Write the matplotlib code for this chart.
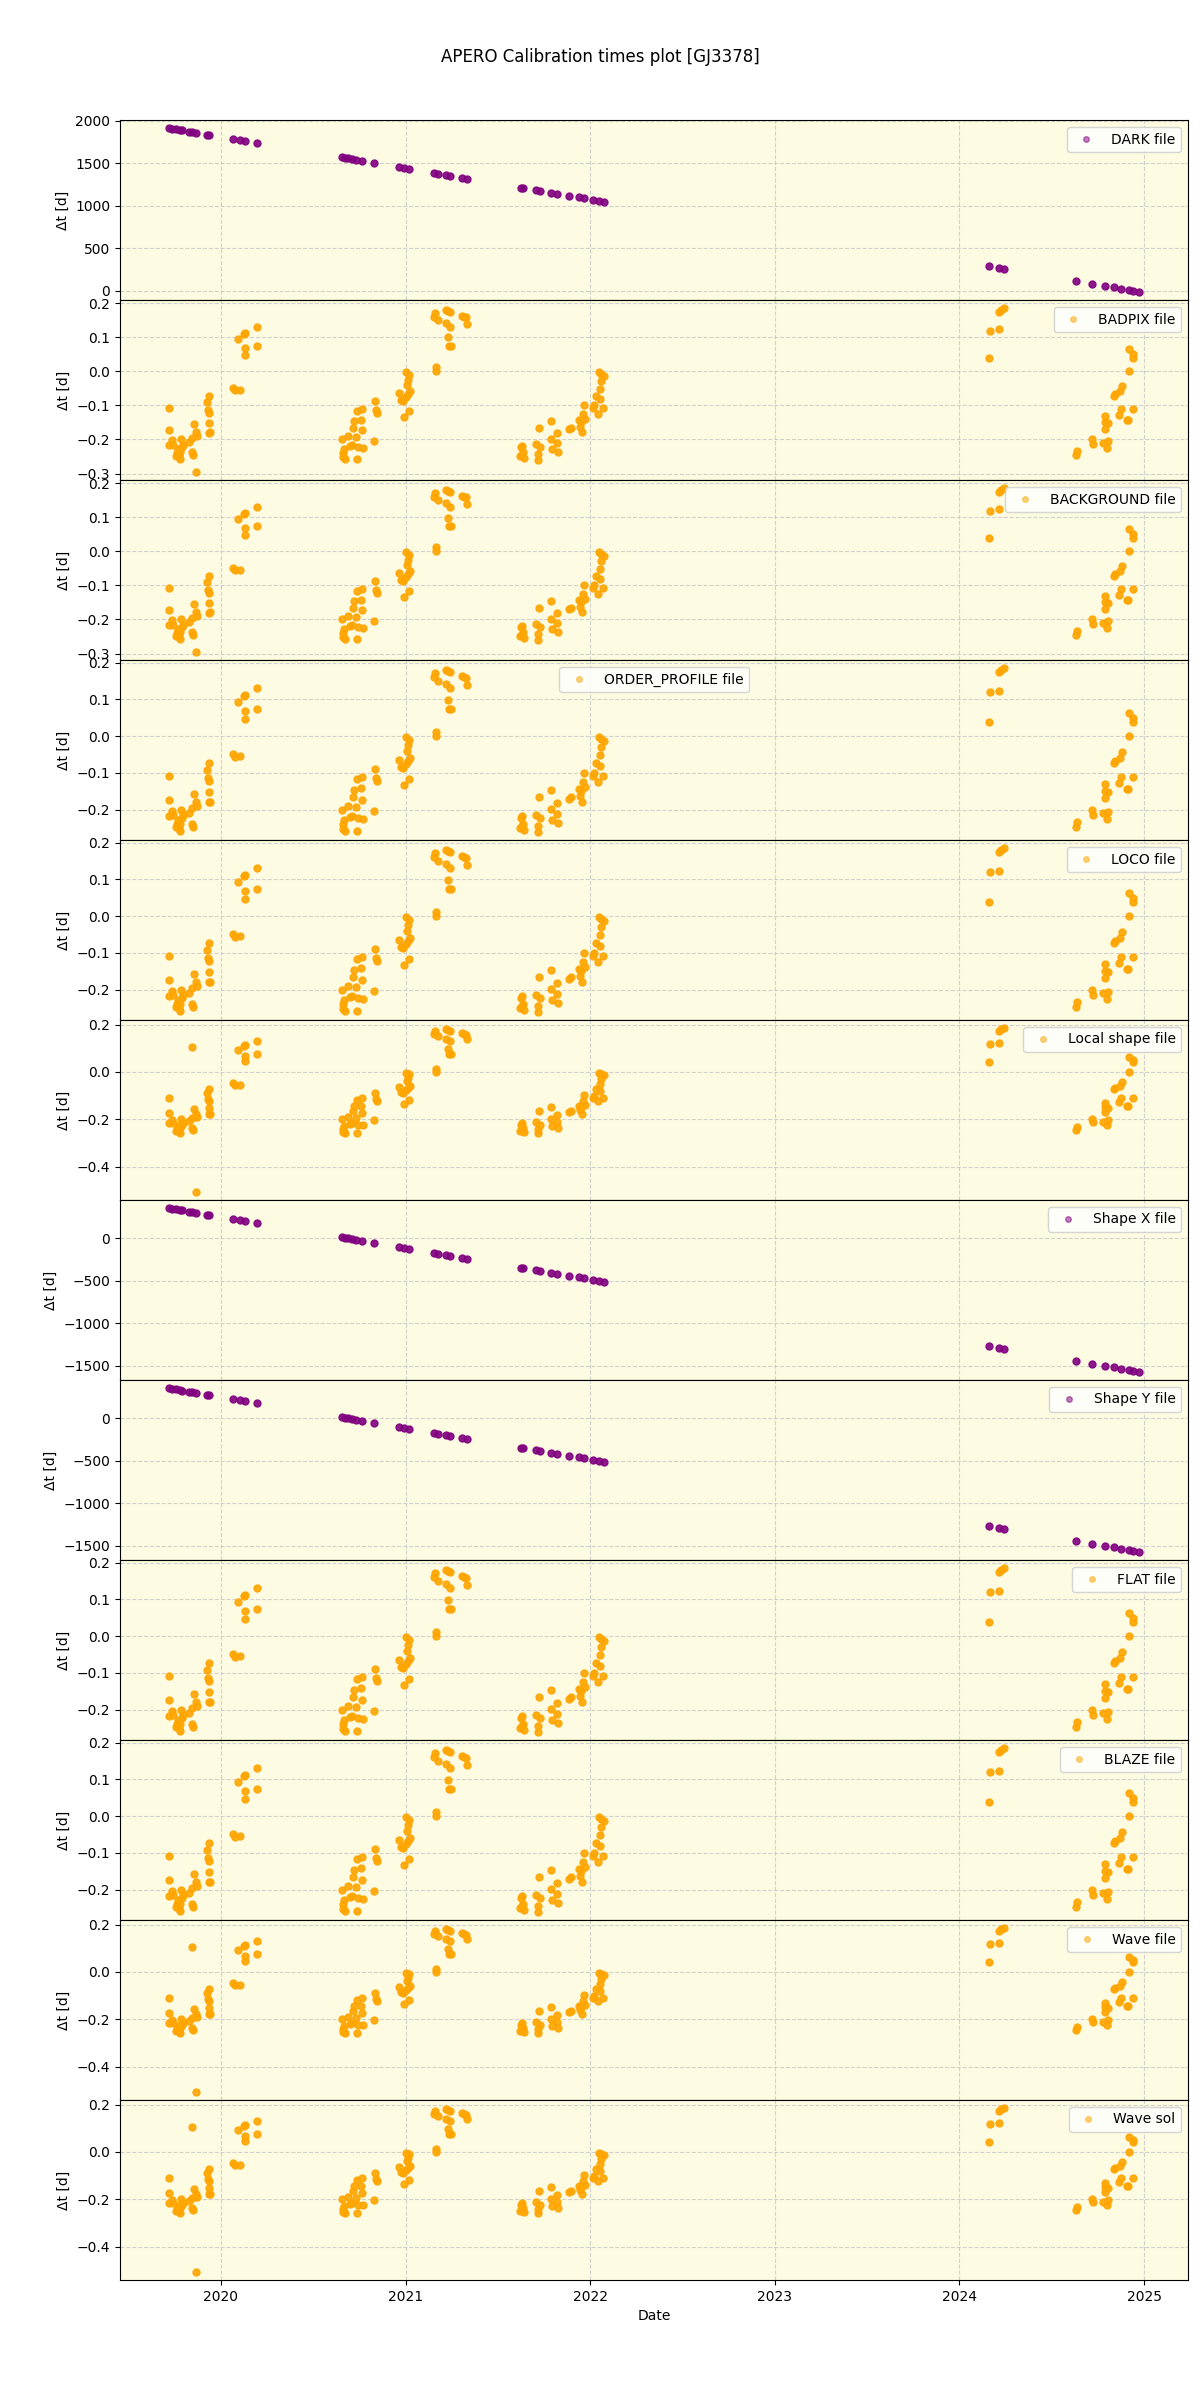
"""
plot.py

Calibration times plot: one panel per calibration file type, showing the
time offset (in days) between each observation and the calibration used.
"""

import matplotlib
matplotlib.use("Agg")
import matplotlib.pyplot as plt
import pandas as pd


# ══════════════════════════════════════════════════════════
# DATA
# ══════════════════════════════════════════════════════════

TITLE = "APERO Calibration times plot [GJ3378]"

# observation dates (decimal years) for the small-offset panels
base_dates = [
    2019.717, 2019.720, 2019.717, 2019.735, 2019.757, 2019.766, 2019.780,
    2019.787, 2019.790, 2019.778, 2019.830, 2019.845, 2019.848, 2019.845,
    2019.857, 2019.864, 2019.869, 2019.923, 2019.934, 2019.932, 2019.936,
    2019.934, 2019.934, 2019.940, 2019.762, 2019.772, 2019.795, 2019.740,
    2020.069, 2020.077, 2020.102, 2020.096, 2020.131, 2020.134, 2020.129,
    2020.194, 2020.194, 2020.127,
    2020.656, 2020.665, 2020.667, 2020.674, 2020.687, 2020.710, 2020.715,
    2020.722, 2020.731, 2020.737, 2020.740, 2020.760, 2020.764, 2020.764,
    2020.769, 2020.745, 2020.830, 2020.835, 2020.843, 2020.846, 2020.660,
    2020.700,
    2020.967, 2020.978, 2020.985, 2020.994, 2021.003, 2021.018, 2021.007,
    2021.012, 2021.021, 2021.018, 2021.000, 2021.010,
    2021.151, 2021.158, 2021.174, 2021.165, 2021.165, 2021.220, 2021.242,
    2021.220, 2021.238, 2021.230, 2021.234, 2021.245, 2021.305, 2021.328,
    2021.333, 2021.230, 2021.315,
    2021.626, 2021.621, 2021.636, 2021.640, 2021.630, 2021.632, 2021.707,
    2021.722, 2021.716, 2021.716, 2021.729, 2021.788, 2021.788, 2021.794,
    2021.819, 2021.820, 2021.822, 2021.884, 2021.896, 2021.938, 2021.942,
    2021.953, 2021.963, 2021.969, 2021.958, 2021.948,
    2022.014, 2022.029, 2022.041, 2022.045, 2022.059, 2022.072, 2022.050,
    2022.058, 2022.068, 2022.050, 2022.020,
    2024.159, 2024.165, 2024.213, 2024.213, 2024.226, 2024.239,
    2024.633, 2024.635, 2024.719, 2024.722, 2024.777, 2024.786, 2024.788,
    2024.790, 2024.800, 2024.802, 2024.806, 2024.836, 2024.845, 2024.862,
    2024.871, 2024.877, 2024.882, 2024.907, 2024.912, 2024.916, 2024.920,
    2024.940, 2024.942, 2024.938,
]

base_dt = [
    -0.109, -0.173, -0.216, -0.203, -0.248, -0.228, -0.257,
    -0.200, -0.223, -0.238, -0.208, -0.238, -0.246, -0.196,
    -0.156, -0.178, -0.190, -0.091, -0.072, -0.114, -0.121,
    -0.152, -0.180, -0.178, -0.240, -0.250, -0.215, -0.215,
    -0.048, -0.056, -0.054, 0.094, 0.113, 0.069, 0.047,
    0.130, 0.075, 0.110,
    -0.200, -0.252, -0.228, -0.257, -0.191, -0.216, -0.166,
    -0.146, -0.193, -0.257, -0.117, -0.142, -0.112, -0.173,
    -0.226, -0.223, -0.204, -0.088, -0.115, -0.121, -0.240,
    -0.220,
    -0.064, -0.084, -0.087, -0.134, -0.003, -0.010, -0.040,
    -0.067, -0.059, -0.117, -0.075, -0.025,
    0.160, 0.171, 0.151, 0.012, 0.000, 0.181, 0.175,
    0.141, 0.131, 0.099, 0.074, 0.074, 0.163, 0.158,
    0.139, 0.178, 0.160,
    -0.223, -0.250, -0.238, -0.255, -0.218, -0.245, -0.213,
    -0.166, -0.243, -0.260, -0.223, -0.147, -0.198, -0.228,
    -0.181, -0.211, -0.236, -0.170, -0.165, -0.144, -0.163,
    -0.178, -0.099, -0.139, -0.124, -0.150,
    -0.109, -0.072, -0.124, -0.003, -0.008, -0.013, -0.052,
    -0.030, -0.109, -0.081, -0.100,
    0.040, 0.119, 0.124, 0.175, 0.180, 0.185,
    -0.246, -0.233, -0.200, -0.213, -0.210, -0.168, -0.150,
    -0.131, -0.225, -0.151, -0.205, -0.074, -0.067, -0.127,
    -0.059, -0.112, -0.042, -0.144, -0.144, 0.064, 0.000,
    0.050, 0.040, -0.112,
]

# extra points only present in some panels
badpix_extra_dates = [2019.864]
badpix_extra_dt = [-0.295]
shape_extra_dates = [2019.845, 2019.864]
shape_extra_dt = [0.104, -0.507]

# dates for the large-offset panels (DARK, Shape X, Shape Y)
long_dates = [
    2019.717, 2019.735, 2019.757, 2019.780, 2019.790, 2019.830, 2019.845,
    2019.864, 2019.923, 2019.934,
    2020.069, 2020.102, 2020.131, 2020.194,
    2020.656, 2020.674, 2020.687, 2020.710, 2020.731, 2020.764, 2020.830,
    2020.967, 2020.994, 2021.018,
    2021.151, 2021.174, 2021.220, 2021.242, 2021.305, 2021.333,
    2021.626, 2021.636, 2021.707, 2021.729, 2021.788, 2021.819, 2021.884,
    2021.938, 2021.963, 2022.014, 2022.045, 2022.072,
    2024.159, 2024.213, 2024.239,
    2024.633, 2024.719, 2024.786, 2024.836, 2024.877, 2024.920, 2024.940,
    2024.975,
]

dark_dt = [
    1910, 1903, 1895, 1886, 1883, 1868, 1863,
    1856, 1834, 1830,
    1781, 1769, 1758, 1735,
    1567, 1560, 1555, 1547, 1539, 1527, 1503,
    1453, 1443, 1434,
    1386, 1377, 1361, 1353, 1330, 1319,
    1212, 1209, 1183, 1175, 1153, 1142, 1118,
    1098, 1089, 1071, 1059, 1049,
    287, 267, 258,
    114, 83, 58, 40, 25, 9, 2,
    -11,
]

shape_x_dt = [
    351, 344, 336, 327, 324, 309, 304,
    297, 275, 271,
    222, 210, 199, 176,
    8, 1, -4, -12, -20, -32, -56,
    -106, -116, -125,
    -173, -182, -198, -206, -229, -240,
    -347, -350, -376, -384, -406, -417, -441,
    -461, -470, -488, -500, -510,
    -1272, -1292, -1301,
    -1445, -1476, -1501, -1519, -1534, -1550, -1557,
    -1570,
]

shape_y_dt = [
    352, 345, 337, 328, 324, 310, 305,
    298, 276, 272,
    223, 211, 200, 177,
    9, 2, -3, -11, -19, -31, -55,
    -105, -115, -124,
    -172, -181, -197, -205, -228, -239,
    -346, -349, -375, -383, -405, -416, -440,
    -460, -469, -487, -499, -509,
    -1271, -1291, -1300,
    -1444, -1475, -1500, -1518, -1533, -1549, -1556,
    -1569,
]


# ══════════════════════════════════════════════════════════
# UTILIDADES
# ══════════════════════════════════════════════════════════

def _to_datetime(years):
    """Decimal years -> pandas timestamps."""
    out = []
    for y in years:
        year = int(y)
        start = pd.Timestamp(year=year, month=1, day=1)
        out.append(start + pd.Timedelta(days=(y - year) * 365.25))
    return out


def _panel(ax, dates, values, label, color, loc="upper right"):
    """One calibration panel."""
    ax.set_facecolor("#fdfbe1")
    ax.plot(_to_datetime(dates), values, "o", color=color, ms=5,
            alpha=0.9, label=label, zorder=3)
    ax.grid(True, linestyle="--", color="#c8c8c8", alpha=0.8, zorder=0)
    ax.set_ylabel("Δt [d]")
    leg = ax.legend(loc=loc, markerscale=0.8)
    for h in leg.legend_handles:
        h.set_alpha(0.5)


# ══════════════════════════════════════════════════════════
# FIGURA
# ══════════════════════════════════════════════════════════

badpix_dates = base_dates + badpix_extra_dates
badpix_dt = base_dt + badpix_extra_dt
shape_dates = base_dates + shape_extra_dates
shape_dt = base_dt + shape_extra_dt

panels = [
    (long_dates, dark_dt, "DARK file", "purple", "upper right"),
    (badpix_dates, badpix_dt, "BADPIX file", "orange", "upper right"),
    (badpix_dates, badpix_dt, "BACKGROUND file", "orange", "upper right"),
    (base_dates, base_dt, "ORDER_PROFILE file", "orange", "upper center"),
    (base_dates, base_dt, "LOCO file", "orange", "upper right"),
    (shape_dates, shape_dt, "Local shape file", "orange", "upper right"),
    (long_dates, shape_x_dt, "Shape X file", "purple", "upper right"),
    (long_dates, shape_y_dt, "Shape Y file", "purple", "upper right"),
    (base_dates, base_dt, "FLAT file", "orange", "upper right"),
    (base_dates, base_dt, "BLAZE file", "orange", "upper right"),
    (shape_dates, shape_dt, "Wave file", "orange", "upper right"),
    (shape_dates, shape_dt, "Wave sol", "orange", "upper right"),
]

fig, axes = plt.subplots(len(panels), 1, figsize=(12, 24), sharex=True)
fig.subplots_adjust(left=0.1, right=0.99, top=0.95, bottom=0.05, hspace=0)

for ax, (d, v, label, color, loc) in zip(axes, panels):
    _panel(ax, d, v, label, color, loc)

axes[-1].set_xlabel("Date")
fig.suptitle(TITLE, y=0.98, fontsize=12)

fig.savefig("out.png", dpi=100)
